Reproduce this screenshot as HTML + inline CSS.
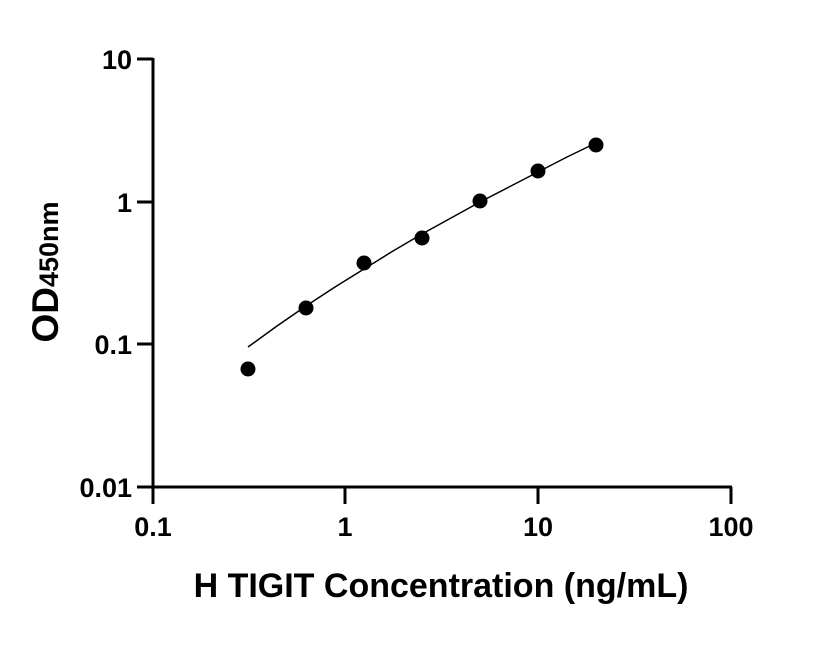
<!DOCTYPE html>
<html><head><meta charset="utf-8"><style>body{margin:0;background:#fff}</style></head><body>
<svg width="816" height="640" viewBox="0 0 816 640" xmlns="http://www.w3.org/2000/svg" font-family="Liberation Sans, sans-serif" font-weight="bold">
<g stroke="#000" stroke-width="3" fill="none">
<line x1="153" y1="58" x2="153" y2="504"/>
<line x1="137" y1="487" x2="732" y2="487"/>
<line x1="137" y1="59" x2="153" y2="59"/>
<line x1="137" y1="202" x2="153" y2="202"/>
<line x1="137" y1="344" x2="153" y2="344"/>
<line x1="345" y1="487" x2="345" y2="504"/>
<line x1="538" y1="487" x2="538" y2="504"/>
<line x1="731" y1="487" x2="731" y2="504"/>
</g>
<g font-size="27" text-anchor="end">
<text x="132" y="69">10</text>
<text x="132" y="212">1</text>
<text x="132" y="354">0.1</text>
<text x="132" y="497">0.01</text>
</g>
<g font-size="27" text-anchor="middle">
<text x="153" y="536">0.1</text>
<text x="345" y="536">1</text>
<text x="538" y="536">10</text>
<text x="731" y="536">100</text>
</g>
<text x="441" y="597" font-size="34" text-anchor="middle">H TIGIT Concentration (ng/mL)</text>
<text transform="translate(58,272) rotate(-90)" font-size="37" text-anchor="middle">OD<tspan font-size="27">450nm</tspan></text>
<polyline fill="none" stroke="#000" stroke-width="1.5" points="248,347 277,326 306,306 335,287 364,269 393,251 422,234 451,218 480,202 509,187 538,172 567,157 596,143"/>
<g fill="#000">
<circle cx="248" cy="369" r="7.5"/>
<circle cx="306" cy="308" r="7.5"/>
<circle cx="364" cy="263" r="7.5"/>
<circle cx="422" cy="238" r="7.5"/>
<circle cx="480" cy="201" r="7.5"/>
<circle cx="538" cy="171" r="7.5"/>
<circle cx="596" cy="145" r="7.5"/>
</g>
</svg>
</body></html>
